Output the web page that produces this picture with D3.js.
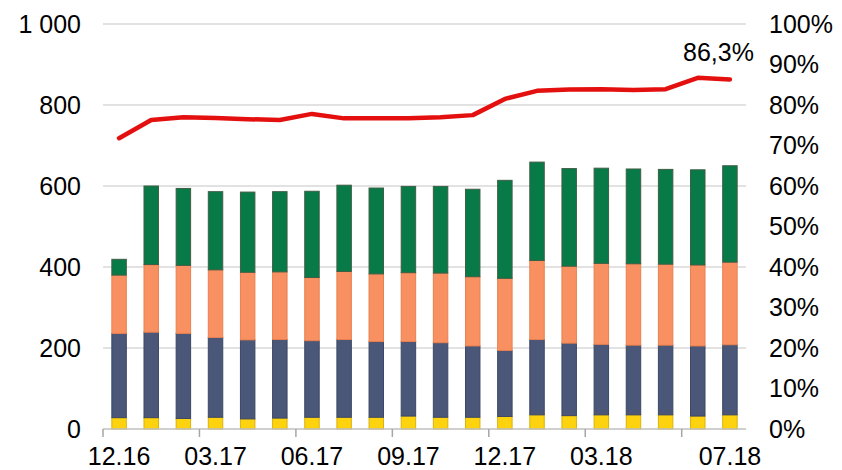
<!DOCTYPE html>
<html>
<head>
<meta charset="utf-8">
<script src="https://cdn.jsdelivr.net/npm/d3@7"></script>
<style>
  body { margin: 0; background: #fff; }
  svg text { font-family: "Liberation Sans", Arial, sans-serif; fill: #000; }
</style>
</head>
<body>
<svg id="chart" width="842" height="470"></svg>
<script>
// months on the x axis
var months = ["12.16", "01.17", "02.17", "03.17", "04.17", "05.17", "06.17", "07.17", "08.17", "09.17",
              "10.17", "11.17", "12.17", "01.18", "02.18", "03.18", "04.18", "05.18", "06.18", "07.18"];
// stacked series, bottom to top
var yellowVals = [28, 28, 26, 29, 25, 27, 29, 29, 29, 32, 29, 29, 31, 35, 33, 35, 35, 35, 32, 35];
var blueVals   = [208, 211, 210, 197, 195, 194, 189, 192, 187, 184, 184, 176, 163, 186, 179, 174, 172, 172, 173, 173];
var orangeVals = [144, 167, 168, 167, 167, 167, 156, 168, 167, 170, 172, 171, 178, 195, 190, 200, 201, 200, 200, 204];
var greenVals  = [39, 194, 190, 193, 198, 198, 213, 213, 212, 213, 214, 216, 242, 243, 241, 235, 234, 234, 235, 238];
// share line (right axis)
var shareVals  = [71.8, 76.3, 77.0, 76.8, 76.5, 76.3, 77.8, 76.7, 76.7, 76.7, 77.0, 77.5, 81.5, 83.5, 83.8, 83.9, 83.7, 83.9, 86.7, 86.3];
var lastLabel = "86,3%";
// axis labels
var labelMonths = ["12.16", "03.17", "06.17", "09.17", "12.17", "03.18", "07.18"];
var tickMonths  = ["12.16", "03.17", "06.17", "09.17", "12.17", "03.18", "06.18"];
var leftTicks  = [0, 200, 400, 600, 800, 1000];
var rightTicks = [0, 10, 20, 30, 40, 50, 60, 70, 80, 90, 100];

var keys = ["yellow", "blue", "orange", "green"];
var colors = {yellow: "#fdd20e", blue: "#4b5778", orange: "#f99061", green: "#077a47"};
var strokes = {yellow: "#d9b40c", blue: "#3c4766", orange: "#e8804f", green: "#3d5e45"};

// plot area edges (not "top": that name belongs to window)
var plotLeft = 103, plotRight = 746, plotTop = 24, plotBottom = 429;

var svg = d3.select("#chart");

var x = d3.scaleBand()
	.domain(months)
	.range([plotLeft, plotRight])
	.paddingInner(0.55)
	.paddingOuter(0.275);
var y = d3.scaleLinear().domain([0, 1000]).range([plotBottom, plotTop]);
var y2 = d3.scaleLinear().domain([0, 100]).range([plotBottom, plotTop]);

var loc = d3.formatLocale({decimal: ",", thousands: " ", grouping: [3], currency: ["", ""]});
var fmt = loc.format(",d");

// gridlines
svg.append("g")
	.selectAll("line")
	.data(leftTicks.filter(function(d) { return d > 0; }))
	.enter().append("line")
	.attr("x1", plotLeft).attr("x2", plotRight)
	.attr("y1", function(d) { return y(d); })
	.attr("y2", function(d) { return y(d); })
	.attr("stroke", "#d9d9d9")
	.attr("stroke-width", 1.5);

// stacked bars
var table = months.map(function(m, i) {
	return {month: m, yellow: yellowVals[i], blue: blueVals[i], orange: orangeVals[i], green: greenVals[i]};
});
var stacked = d3.stack().keys(keys)(table);

svg.append("g")
	.selectAll("g")
	.data(stacked)
	.enter().append("g")
	.attr("fill", function(s) { return colors[s.key]; })
	.attr("stroke", function(s) { return strokes[s.key]; })
	.attr("stroke-width", 1)
	.selectAll("rect")
	.data(function(s) { return s; })
	.enter().append("rect")
	.attr("x", function(d) { return x(d.data.month); })
	.attr("width", x.bandwidth())
	.attr("y", function(d) { return y(d[1]); })
	.attr("height", function(d) { return y(d[0]) - y(d[1]); });

// bottom axis line and tick marks
var half = (x.step() - x.bandwidth()) / 2;
svg.append("line")
	.attr("x1", plotLeft).attr("x2", plotRight)
	.attr("y1", plotBottom).attr("y2", plotBottom)
	.attr("stroke", "#bfbfbf").attr("stroke-width", 1.5);
svg.append("g")
	.selectAll("line")
	.data(tickMonths)
	.enter().append("line")
	.attr("x1", function(d) { return x(d) - half; })
	.attr("x2", function(d) { return x(d) - half; })
	.attr("y1", plotBottom).attr("y2", plotBottom + 8)
	.attr("stroke", "#a6a6a6").attr("stroke-width", 1.5);

// x labels
var xAxis = svg.append("g")
	.attr("transform", "translate(0," + plotBottom + ")")
	.call(d3.axisBottom(x).tickValues(labelMonths).tickSize(0).tickPadding(18));
xAxis.select(".domain").remove();
xAxis.selectAll("text").attr("font-size", 25).style("font-family", "Liberation Sans, Arial, sans-serif");

// left axis
var yAxis = svg.append("g")
	.attr("transform", "translate(81,0)")
	.call(d3.axisLeft(y).tickValues(leftTicks).tickFormat(fmt).tickSize(0).tickPadding(0));
yAxis.select(".domain").remove();
yAxis.selectAll("text").attr("font-size", 25).style("font-family", "Liberation Sans, Arial, sans-serif");

// right axis
var y2Axis = svg.append("g")
	.attr("transform", "translate(769,0)")
	.call(d3.axisRight(y2).tickValues(rightTicks).tickFormat(function(d) { return d + "%"; }).tickSize(0).tickPadding(0));
y2Axis.select(".domain").remove();
y2Axis.selectAll("text").attr("font-size", 25).style("font-family", "Liberation Sans, Arial, sans-serif");

// share line
var line = d3.line()
	.x(function(d, i) { return x(months[i]) + x.bandwidth() / 2; })
	.y(function(d) { return y2(d); });
svg.append("path")
	.datum(shareVals)
	.attr("d", line)
	.attr("fill", "none")
	.attr("stroke", "#e3100f")
	.attr("stroke-width", 4.5)
	.attr("stroke-linejoin", "round")
	.attr("stroke-linecap", "round");

// label on the last point
var lastX = x(months[months.length - 1]) + x.bandwidth() / 2;
svg.append("text")
	.attr("x", lastX + 24)
	.attr("y", y2(shareVals[shareVals.length - 1]) - 18)
	.attr("text-anchor", "end")
	.attr("font-size", 25)
	.text(lastLabel);
</script>
</body>
</html>
